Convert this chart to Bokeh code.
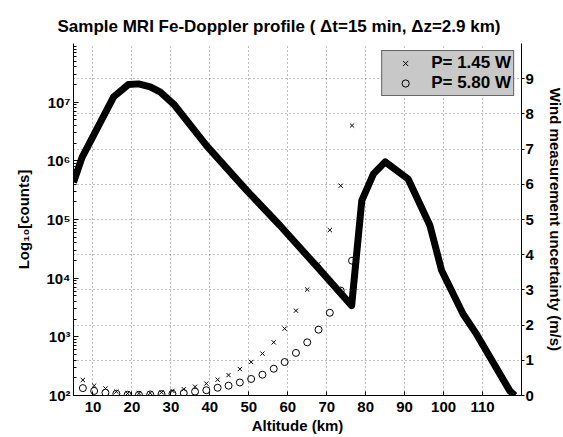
import numpy as np
from bokeh.plotting import figure
from bokeh.models import (Range1d, LinearAxis, LinearScale, FixedTicker, Grid,
                          Legend, CustomJSTickFormatter)
from bokeh.embed import file_html
from bokeh.resources import INLINE

# ---- data ----
# counts profile (thick line), altitude km vs counts
line_alt = [5.0, 7.2, 15.3, 19.1, 21.7, 24.7, 27.3, 30.7, 39.2, 49.5, 58.0,
            67.4, 76.4, 79.0, 82.0, 85.0, 90.9, 96.5, 99.5, 105.0, 108.5,
            117.0, 118.3]
line_counts = [4.3e5, 1.15e6, 1.23e7, 2.0e7, 2.05e7, 1.82e7, 1.48e7, 9.3e6,
               1.8e6, 3.1e5, 7.9e4, 1.6e4, 3.4e3, 2.1e5, 6.0e5, 9.6e5, 4.9e5,
               7.9e4, 1.35e4, 2.45e3, 1.1e3, 1.2e2, 1.0e2]

# wind measurement uncertainty (m/s)
wind_alt = [7.4, 10.3, 13.2, 16.0, 18.9, 21.8, 24.7, 27.6, 30.4, 33.3, 36.2,
            39.1, 42.0, 44.8, 47.7, 50.6, 53.5, 56.4, 59.2, 62.1, 65.0, 67.9,
            70.8, 73.6, 76.5]
wind_p145 = [0.44, 0.28, 0.20, 0.11, 0.06, 0.06, 0.07, 0.09, 0.13, 0.18, 0.25,
             0.34, 0.45, 0.58, 0.75, 0.95, 1.19, 1.51, 1.90, 2.41, 3.01, 3.74,
             4.70, 5.96, 7.67]
wind_p580 = [0.21, 0.13, 0.08, 0.05, 0.02, 0.02, 0.03, 0.04, 0.05, 0.07, 0.11,
             0.15, 0.22, 0.28, 0.37, 0.47, 0.59, 0.76, 0.95, 1.21, 1.51, 1.87,
             2.35, 2.98, 3.83]

legend_labels = ["P= 1.45 W", "P= 5.80 W"]
x_ticks = [10, 20, 30, 40, 50, 60, 70, 80, 90, 100, 110]
left_ticks = [1e2, 1e3, 1e4, 1e5, 1e6, 1e7]
right_ticks = [0, 1, 2, 3, 4, 5, 6, 7, 8, 9]

FONT = "Liberation Sans"

p = figure(frame_width=448, frame_height=352,
           x_range=Range1d(5, 120), y_range=Range1d(1e2, 1e8),
           y_axis_type="log", output_backend="svg", toolbar_location=None,
           min_border_left=73, min_border_right=42, min_border_top=43,
           min_border_bottom=42)
p.extra_y_ranges = {"wind": Range1d(0, 10)}
p.extra_y_scales = {"wind": LinearScale()}
p.outline_line_color = None
p.background_fill_color = "white"
p.border_fill_color = "white"

p.title.text = "Sample MRI Fe-Doppler profile ( \u0394t=15 min, \u0394z=2.9 km)"
p.title.text_font = FONT
p.title.text_font_style = "bold"
p.title.text_font_size = "17px"
p.title.text_color = "black"
p.title.align = "left"
p.title.offset = -16
p.title.standoff = 16

# x axis
xa = p.xaxis[0]
xa.ticker = FixedTicker(ticks=x_ticks)
xa.axis_label = "Altitude (km)"
# left axis
ya = p.yaxis[0]
minor = [m * 10 ** e for e in range(2, 8) for m in range(2, 10)]
ya.ticker = FixedTicker(ticks=left_ticks, minor_ticks=minor)
ya.formatter = CustomJSTickFormatter(code="""
const sup = {"0":"\u2070","1":"\u00b9","2":"\u00b2","3":"\u00b3","4":"\u2074",
             "5":"\u2075","6":"\u2076","7":"\u2077","8":"\u2078","9":"\u2079"};
const e = Math.round(Math.log10(tick));
return "10" + String(e).split("").map(c => sup[c]).join("");
""")
ya.axis_label = "Log\u2081\u2080[counts]"

# right axis
ra = LinearAxis(y_range_name="wind", ticker=FixedTicker(ticks=right_ticks),
                axis_label="Wind measurement uncertainty (m/s)")
p.add_layout(ra, "right")

for ax in (xa, ya, ra):
    ax.axis_line_color = "black"
    ax.major_tick_line_color = "black"
    ax.minor_tick_line_color = "black"
    ax.major_label_text_font = FONT
    ax.major_label_text_font_style = "bold"
    ax.major_label_text_font_size = "15px"
    ax.major_label_text_color = "black"
    ax.axis_label_text_font = FONT
    ax.axis_label_text_font_style = "bold"
    ax.axis_label_text_font_size = "15px"
    ax.axis_label_text_color = "black"

xa.major_tick_in = 4
xa.major_tick_out = 0
xa.minor_tick_in = 0
xa.minor_tick_out = 0
xa.major_label_standoff = 6
xa.axis_label_standoff = 2

ya.major_tick_in = 5
ya.major_tick_out = 0
ya.minor_tick_in = 3
ya.minor_tick_out = 0
ya.major_label_standoff = 3
ya.axis_label_standoff = 11

ra.major_tick_in = 0
ra.major_tick_out = 3
ra.minor_tick_in = 0
ra.minor_tick_out = 0
ra.major_label_standoff = 1
ra.axis_label_standoff = 10

# grids
p.ygrid.visible = False
p.xgrid.ticker = FixedTicker(ticks=x_ticks)
p.xgrid.grid_line_color = "#808080"
p.xgrid.grid_line_dash = "1 3"
p.xgrid.grid_line_width = 1
wgrid = Grid(dimension=1, ticker=FixedTicker(ticks=right_ticks[1:]),
             y_range_name="wind", grid_line_color="#808080",
             grid_line_dash="1 3", grid_line_width=1)
p.add_layout(wgrid)

# markers (under the line)
r1 = p.scatter(wind_alt, wind_p145, marker="x", size=6, line_color="black",
               line_width=1, y_range_name="wind")
r2 = p.scatter(wind_alt, wind_p580, marker="circle", size=7,
               line_color="black", fill_color=None, line_width=1,
               y_range_name="wind")

p.line(line_alt, line_counts, line_width=7, line_color="black",
       line_join="round")

legend = Legend(items=[(legend_labels[0], [r1]), (legend_labels[1], [r2])],
                location="top_right", margin=7, padding=2, glyph_width=42,
                glyph_height=18, label_height=18, label_standoff=5, spacing=0,
                background_fill_color="#c8c8c8", background_fill_alpha=1,
                border_line_color="black", border_line_width=1,
                label_text_font=FONT, label_text_font_style="bold",
                label_text_font_size="17px", label_text_color="black")
p.add_layout(legend)

open("out.html", "w").write(file_html(p, INLINE))
